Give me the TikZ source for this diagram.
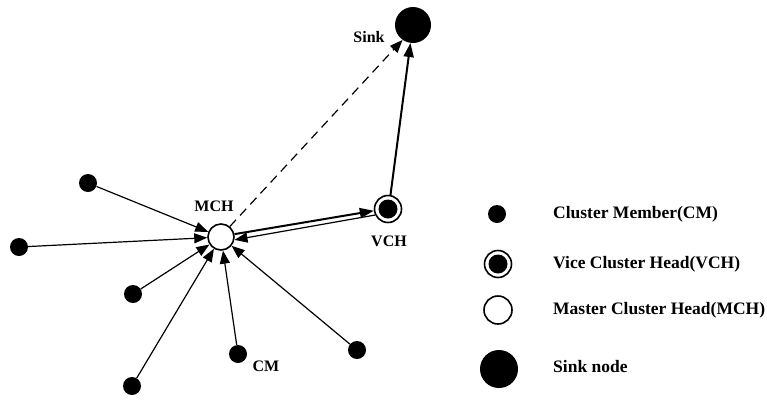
\documentclass[tikz,border=0pt]{standalone}
\usepackage{fontspec}
\setmainfont{Liberation Serif}
\usetikzlibrary{arrows.meta}
\begin{document}
\begin{tikzpicture}[x=1pt,y=-1pt,
  cmnode/.style={circle,fill=black,inner sep=0pt,minimum size=18pt},
  mchnode/.style={circle,draw=black,line width=1.6pt,fill=white,inner sep=0pt,minimum size=26pt},
  vchnode/.style={circle,draw=black,line width=1.6pt,fill=white,inner sep=0pt,minimum size=27pt,
    path picture={\fill[black] (path picture bounding box.center) circle (9.5pt);}},
  sinknode/.style={circle,fill=black,inner sep=0pt,minimum size=36pt},
  lbl/.style={font=\fontsize{16}{19}\selectfont\bfseries,inner sep=0pt},
  leg/.style={font=\fontsize{17.5}{21}\selectfont\bfseries,inner sep=0pt,anchor=west},
  arr/.style={-{Triangle[length=13pt,width=10pt]},line width=1.2pt},
  thickarr/.style={-{Triangle[length=14pt,width=10pt]},line width=2pt}]
\useasboundingbox (0,0) rectangle (767,399);
% main nodes
\node[sinknode] (sink) at (413,25) {};
\node[mchnode] (mch) at (221,237) {};
\node[vchnode] (vch) at (388,209) {};
\node[cmnode] (c1) at (88,183) {};
\node[cmnode] (c2) at (19,247) {};
\node[cmnode] (c3) at (133,294) {};
\node[cmnode] (c4) at (238,354) {};
\node[cmnode] (c5) at (357,350) {};
\node[cmnode] (c6) at (132,386) {};
% labels
\node[lbl] (lsink) at (369,37) {Sink};
\node[lbl] (lmch) at (214,206) {MCH};
\node[lbl] (lvch) at (389,241) {VCH};
\node[lbl] (lcm) at (266,366) {CM};
% connectors
\foreach \c in {c1,c2,c3,c4,c5,c6} \draw[arr] (\c) -- (mch);
\draw[thickarr] (mch.12) -- (vch.187);
\draw[arr] (vch.205) -- (mch.-12);
\draw[thickarr] (vch.80) -- (sink.262);
\draw[arr,dashed,dash pattern=on 9pt off 6pt] (mch.50) -- (sink.235);
% legend
\node[cmnode] (k1) at (497,214) {};
\node[vchnode] (k2) at (498,264) {};
\node[mchnode,minimum size=28pt] (k3) at (498,310) {};
\node[sinknode,minimum size=38pt] (k4) at (499,369) {};
\node[leg] (t1) at (553,214) {Cluster Member(CM)};
\node[leg] (t2) at (553,264) {Vice Cluster Head(VCH)};
\node[leg] (t3) at (553,310) {Master Cluster Head(MCH)};
\node[leg] (t4) at (553,367) {Sink node};
\end{tikzpicture}
\end{document}
